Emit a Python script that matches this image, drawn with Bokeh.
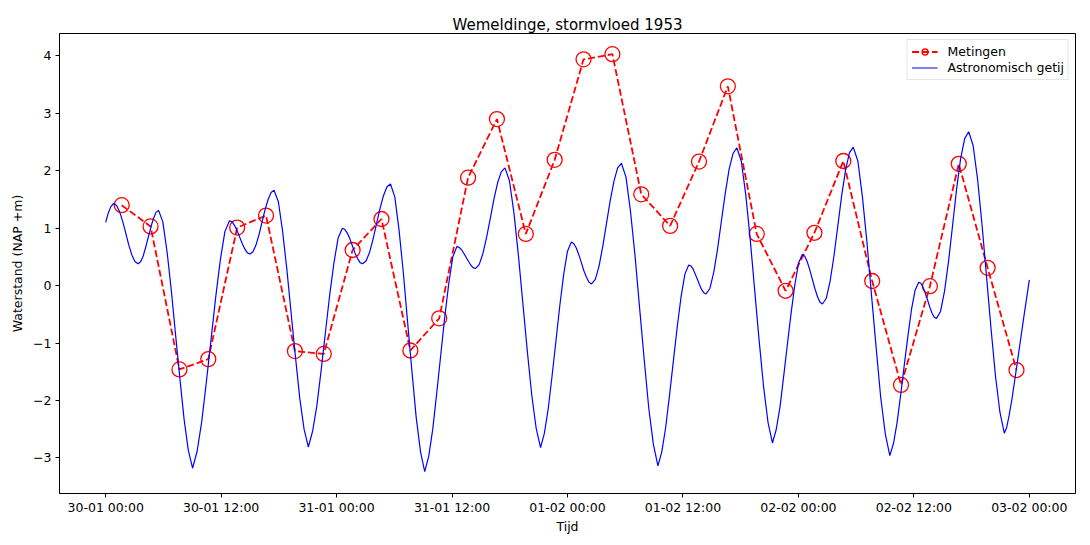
import pandas as pd
from bokeh.plotting import figure
from bokeh.models import Range1d, FixedTicker, DatetimeTickFormatter, Legend, LegendItem
from bokeh.embed import file_html
from bokeh.resources import INLINE

# ---------------- data ----------------
start = pd.Timestamp("1953-01-30 00:00")

# Metingen: every 3 hours starting 30-01 01:40
meting_tijd = pd.date_range("1953-01-30 01:40", periods=32, freq="3h")
meting_stand = [1.40, 1.03, -1.46, -1.28, 1.01, 1.22, -1.14, -1.19,
                0.62, 1.16, -1.13, -0.57, 1.88, 2.90, 0.90, 2.19,
                3.94, 4.03, 1.59, 1.04, 2.16, 3.47, 0.90, -0.09,
                0.92, 2.17, 0.08, -1.73, -0.01, 2.12, 0.31, -1.47]

# Astronomisch getij: (hours since 30-01 00:00, level in m)
getij_punten = [
    (0.00, 1.10), (0.28, 1.27), (0.55, 1.38), (0.83, 1.43),
    (1.15, 1.39), (1.46, 1.28), (1.78, 1.11), (2.10, 0.905), (2.41, 0.70), (2.73, 0.53), (3.04, 0.42), (3.36, 0.38),
    (3.63, 0.415), (3.90, 0.515), (4.16, 0.67), (4.43, 0.845), (4.70, 1.02), (4.97, 1.17), (5.23, 1.275), (5.50, 1.31),
    (5.94, 1.11), (6.38, 0.59), (6.82, -0.08), (7.26, -0.85), (7.71, -1.61), (8.15, -2.33), (8.59, -2.87), (9.03, -3.18),
    (9.51, -2.88), (9.99, -2.36), (10.47, -1.67), (10.95, -0.94), (11.43, -0.21), (11.91, 0.44), (12.39, 0.94), (12.87, 1.13),
    (13.14, 1.11), (13.40, 1.045), (13.67, 0.95), (13.94, 0.84), (14.20, 0.73), (14.47, 0.635), (14.73, 0.57), (15.00, 0.55),
    (15.31, 0.59), (15.63, 0.71), (15.94, 0.89), (16.25, 1.105), (16.56, 1.32), (16.88, 1.50), (17.19, 1.62), (17.50, 1.66),
    (17.95, 1.46), (18.39, 0.945), (18.84, 0.27), (19.28, -0.49), (19.73, -1.25), (20.17, -1.96), (20.62, -2.50), (21.06, -2.81),
    (21.50, -2.54), (21.95, -2.09), (22.39, -1.48), (22.83, -0.83), (23.27, -0.18), (23.72, 0.39), (24.16, 0.83), (24.60, 1.00),
    (24.86, 0.976), (25.13, 0.91), (25.39, 0.81), (25.65, 0.69), (25.91, 0.57), (26.18, 0.47), (26.44, 0.40), (26.70, 0.38),
    (27.06, 0.43), (27.43, 0.58), (27.79, 0.81), (28.15, 1.075), (28.51, 1.34), (28.88, 1.57), (29.24, 1.72), (29.60, 1.77),
    (30.05, 1.545), (30.49, 0.97), (30.94, 0.22), (31.38, -0.635), (31.83, -1.49), (32.27, -2.29), (32.72, -2.89), (33.16, -3.24),
    (33.58, -2.97), (33.995, -2.50), (34.41, -1.87), (34.83, -1.20), (35.25, -0.535), (35.67, 0.05), (36.08, 0.50), (36.50, 0.68),
    (36.74, 0.666), (36.99, 0.625), (37.23, 0.56), (37.48, 0.49), (37.72, 0.42), (37.96, 0.355), (38.21, 0.31), (38.45, 0.30),
    (38.83, 0.37), (39.21, 0.56), (39.59, 0.84), (39.98, 1.175), (40.36, 1.51), (40.74, 1.795), (41.12, 1.98), (41.50, 2.05),
    (41.96, 1.83), (42.43, 1.27), (42.89, 0.54), (43.35, -0.29), (43.81, -1.12), (44.28, -1.90), (44.74, -2.48), (45.20, -2.82),
    (45.60, -2.57), (46.00, -2.14), (46.40, -1.57), (46.80, -0.96), (47.20, -0.35), (47.60, 0.19), (48.00, 0.60), (48.40, 0.76),
    (48.66, 0.73), (48.93, 0.65), (49.19, 0.53), (49.45, 0.395), (49.71, 0.255), (49.98, 0.14), (50.24, 0.06), (50.50, 0.03),
    (50.89, 0.11), (51.28, 0.34), (51.66, 0.68), (52.05, 1.08), (52.44, 1.48), (52.83, 1.82), (53.21, 2.05), (53.60, 2.13),
    (54.08, 1.89), (54.55, 1.29), (55.03, 0.50), (55.50, -0.40), (55.98, -1.30), (56.45, -2.14), (56.93, -2.77), (57.40, -3.14),
    (57.80, -2.895), (58.20, -2.475), (58.60, -1.915), (59.00, -1.32), (59.40, -0.725), (59.80, -0.20), (60.20, 0.20), (60.60, 0.36),
    (60.83, 0.34), (61.05, 0.29), (61.28, 0.20), (61.50, 0.11), (61.73, 0.01), (61.95, -0.07), (62.18, -0.125), (62.40, -0.145),
    (62.80, -0.05), (63.20, 0.23), (63.60, 0.64), (64.00, 1.13), (64.40, 1.61), (64.80, 2.03), (65.20, 2.30), (65.60, 2.40),
    (66.06, 2.17), (66.53, 1.58), (66.99, 0.81), (67.45, -0.07), (67.91, -0.94), (68.38, -1.76), (68.84, -2.38), (69.30, -2.74),
    (69.69, -2.51), (70.08, -2.12), (70.46, -1.59), (70.85, -1.03), (71.24, -0.48), (71.63, 0.015), (72.01, 0.39), (72.40, 0.54),
    (72.66, 0.51), (72.93, 0.41), (73.19, 0.27), (73.45, 0.11), (73.71, -0.05), (73.98, -0.19), (74.24, -0.29), (74.50, -0.32),
    (74.90, -0.22), (75.30, 0.08), (75.70, 0.52), (76.10, 1.045), (76.50, 1.57), (76.90, 2.01), (77.30, 2.31), (77.70, 2.41),
    (78.18, 2.17), (78.65, 1.55), (79.13, 0.745), (79.60, -0.17), (80.08, -1.08), (80.55, -1.94), (81.03, -2.58), (81.50, -2.96),
    (81.88, -2.75), (82.25, -2.39), (82.63, -1.90), (83.00, -1.39), (83.38, -0.88), (83.75, -0.42), (84.13, -0.08), (84.50, 0.06),
    (84.73, 0.04), (84.96, -0.03), (85.19, -0.135), (85.43, -0.255), (85.66, -0.375), (85.89, -0.48), (86.12, -0.55), (86.35, -0.57),
    (86.77, -0.45), (87.19, -0.095), (87.61, 0.43), (88.03, 1.055), (88.44, 1.68), (88.86, 2.21), (89.28, 2.56), (89.70, 2.68),
    (90.16, 2.44), (90.63, 1.84), (91.09, 1.05), (91.55, 0.16), (92.01, -0.73), (92.48, -1.57), (92.94, -2.20), (93.40, -2.57),
    (93.65, -2.47), (93.90, -2.26), (94.20, -1.97), (94.50, -1.63), (94.80, -1.28), (95.10, -0.93), (95.40, -0.58), (95.70, -0.24),
    (96.00, 0.10),
]
getij_uur = [pt[0] for pt in getij_punten]
getij_stand = [pt[1] for pt in getij_punten]
getij_tijd = start + pd.to_timedelta(getij_uur, unit="h")

x_ticks = pd.date_range("1953-01-30 00:00", "1953-02-03 00:00", freq="12h")
y_ticks = [-3, -2, -1, 0, 1, 2, 3, 4]

title_text = "Wemeldinge, stormvloed 1953"
x_label = "Tijd"
y_label = "Waterstand (NAP +m)"
serie_labels = ["Metingen", "Astronomisch getij"]

# ---------------- figure ----------------
FONT = "DejaVu Sans"


def ms(ts):
    return pd.Timestamp(ts).value / 1e6


hr = 3600 * 1000.0
x0 = ms(start)
p = figure(width=1090, height=545, x_axis_type="datetime",
           output_backend="svg", toolbar_location=None,
           min_border_left=59, min_border_right=15,
           min_border_top=33, min_border_bottom=52,
           x_range=Range1d(x0 - 4.8 * hr, x0 + 100.8 * hr),
           y_range=Range1d(-3.62, 4.39))

p.title.text = title_text
p.title.align = "center"
p.title.text_font = FONT
p.title.text_font_size = "15px"
p.title.text_font_style = "normal"
p.title.text_color = "black"
p.title.standoff = 0

p.xgrid.visible = False
p.ygrid.visible = False
p.outline_line_color = "black"
p.outline_line_width = 1
p.background_fill_color = "white"
p.border_fill_color = "white"

r_line = p.line(meting_tijd, meting_stand, line_color="#ff0000", line_width=1.8,
                line_dash="7 3")
r_pts = p.scatter(meting_tijd, meting_stand, marker="circle", size=15,
                  fill_color=None, line_color="#ff0000", line_width=1.3)
b_line = p.line(getij_tijd, getij_stand, line_color="#0000ff", line_width=1.2)

fmt = "%d-%m %H:%M"
p.xaxis.ticker = FixedTicker(ticks=[ms(t) for t in x_ticks])
p.xaxis.formatter = DatetimeTickFormatter(
    microseconds=fmt, milliseconds=fmt, seconds=fmt, minsec=fmt, minutes=fmt,
    hourmin=fmt, hours=fmt, days=fmt, months=fmt, years=fmt)
p.yaxis.ticker = FixedTicker(ticks=y_ticks)
p.yaxis.major_label_overrides = {v: (str(v) if v >= 0 else "\u2212" + str(-v)) for v in y_ticks}

for ax in (p.xaxis, p.yaxis):
    ax.axis_line_color = "black"
    ax.major_tick_line_color = "black"
    ax.major_tick_out = 4
    ax.major_tick_in = 0
    ax.minor_tick_line_color = None
    ax.major_label_text_font = FONT
    ax.major_label_text_font_size = "12.5px"
    ax.major_label_text_color = "black"
    ax.axis_label_text_font = FONT
    ax.axis_label_text_font_size = "12.5px"
    ax.axis_label_text_font_style = "normal"
    ax.axis_label_text_color = "black"

p.xaxis.axis_label = x_label
p.yaxis.axis_label = y_label
p.xaxis.major_label_standoff = 2
p.yaxis.major_label_standoff = 4
p.xaxis.axis_label_standoff = 1
p.yaxis.axis_label_standoff = 5

legend = Legend(items=[LegendItem(label=serie_labels[0], renderers=[r_line, r_pts]),
                       LegendItem(label=serie_labels[1], renderers=[b_line])],
                location="top_right")
legend.label_text_font = FONT
legend.label_text_font_size = "12.5px"
legend.label_text_color = "black"
legend.glyph_width = 26
legend.glyph_height = 15
legend.spacing = 1
legend.padding = 4
legend.margin = 6
legend.label_standoff = 10
legend.border_line_color = "#cccccc"
legend.border_line_width = 1
legend.background_fill_alpha = 0.8
p.add_layout(legend)

open("out.html", "w").write(file_html(p, INLINE))
